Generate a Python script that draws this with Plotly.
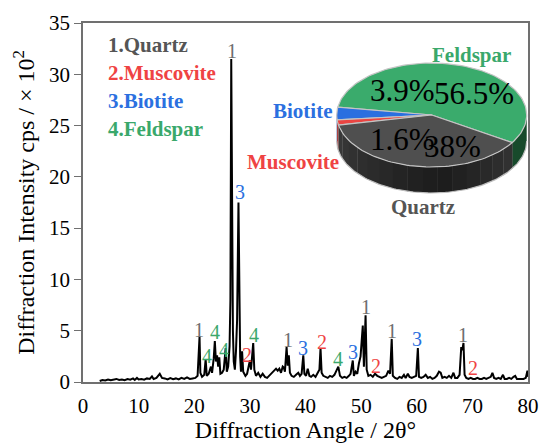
import numpy as np
import plotly.graph_objects as go

# ---------------- data ----------------
two_theta = [3.0, 3.5, 4.0, 4.5, 5.0, 5.5, 6.0, 6.5, 7.0, 7.5, 8.0, 8.5, 9.0, 9.3, 9.7, 10.0, 10.5, 11.0,
             11.5, 12.0, 12.4, 12.7, 13.2, 13.8, 14.2, 14.7, 15.2, 15.7, 16.2, 16.7, 17.2, 17.7, 18.2, 18.7,
             19.2, 19.7, 20.2, 20.6, 20.8, 20.95, 21.1, 21.4, 21.8, 22.05, 22.25, 22.6, 23.0, 23.2, 23.5,
             23.7, 23.9, 24.1, 24.3, 24.5, 24.7, 25.0, 25.3, 25.65, 25.85, 26.1, 26.35, 26.5, 26.65, 26.8,
             26.95, 27.1, 27.3, 27.5, 27.7, 27.95, 28.1, 28.25, 28.4, 28.6, 28.8, 29.2, 29.5, 29.8, 30.0,
             30.2, 30.4, 30.6, 30.8, 31.1, 31.5, 31.9, 32.3, 32.7, 33.1, 33.5, 33.9, 34.3, 34.7, 35.0, 35.3,
             35.6, 35.9, 36.1, 36.3, 36.6, 36.8, 37.0, 37.2, 37.5, 37.9, 38.3, 38.7, 39.0, 39.3, 39.6, 39.8,
             40.1, 40.4, 40.7, 41.0, 41.4, 41.8, 42.2, 42.5, 42.7, 42.9, 43.2, 43.6, 44.0, 44.4, 44.8, 45.2,
             45.6, 45.9, 46.2, 46.6, 47.0, 47.4, 47.8, 48.1, 48.5, 48.7, 49.0, 49.3, 49.6, 49.9, 50.3, 50.5,
             50.8, 51.0, 51.3, 51.7, 52.1, 52.5, 52.9, 53.3, 53.7, 54.1, 54.5, 54.9, 55.2, 55.5, 55.7, 56.1,
             56.5, 56.9, 57.3, 57.7, 58.0, 58.4, 58.7, 59.1, 59.5, 59.9, 60.2, 60.4, 60.8, 61.2, 61.6, 62.0,
             62.4, 62.8, 63.2, 63.6, 64.0, 64.3, 64.6, 65.0, 65.4, 65.8, 66.2, 66.6, 66.9, 67.3, 67.7, 68.0,
             68.2, 68.4, 68.6, 68.9, 69.3, 69.7, 70.1, 70.5, 70.9, 71.3, 71.7, 72.1, 72.5, 72.9, 73.3, 73.6,
             73.9, 74.3, 74.7, 75.1, 75.5, 75.8, 76.2, 76.6, 77.0, 77.4, 77.7, 78.0, 78.4, 78.8, 79.2, 79.6,
             79.9, 80.0]
intensity = [0.10, 0.20, 0.15, 0.25, 0.18, 0.22, 0.30, 0.20, 0.25, 0.18, 0.28, 0.22, 0.35, 0.20, 0.40, 0.25,
             0.30, 0.22, 0.35, 0.30, 0.55, 0.30, 0.40, 0.80, 0.40, 0.35, 0.25, 0.38, 0.28, 0.35, 0.25, 0.40,
             0.30, 0.45, 0.30, 0.35, 0.40, 0.60, 2.6, 4.4, 0.9, 0.5, 0.7, 2.2, 0.6, 0.8, 1.5, 0.9, 2.3,
             4.0, 2.0, 2.6, 1.5, 2.4, 0.8, 0.9, 1.2, 3.3, 1.0, 1.5, 3.5, 8.0, 31.5, 12.0,
             5.0, 2.0, 1.2, 3.0, 6.0, 17.5, 8.0, 2.5, 1.0, 3.0, 1.0, 0.6, 0.8, 1.8, 2.1,
             1.2, 2.5, 3.8, 1.2, 0.6, 0.9, 0.5, 0.8, 0.5, 0.4, 0.6, 0.9, 1.1, 1.3, 1.1, 1.3,
             0.9, 1.5, 1.4, 1.0, 3.4, 1.6, 2.6, 0.9, 0.6, 0.5, 0.7, 0.9, 0.6, 0.8, 2.6, 0.8,
             0.6, 1.3, 0.6, 0.5, 0.7, 0.5, 0.9, 1.2, 3.3, 0.9, 0.6, 0.5, 0.4, 0.6, 0.5, 0.7,
             1.1, 1.5, 0.6, 0.4, 0.5, 0.4, 0.6, 0.8, 2.1, 0.6, 1.0, 0.8, 1.8, 2.5, 5.5, 1.5,
             6.5, 1.2, 0.6, 0.7, 0.5, 0.8, 0.6, 0.5, 0.4, 0.5, 0.6, 1.1, 0.8, 4.2, 0.6, 0.4,
             0.3, 0.5, 0.4, 0.7, 0.4, 0.8, 0.5, 0.4, 0.5, 0.6, 3.3, 0.5, 0.4, 0.5, 0.7, 0.4,
             0.5, 0.3, 0.4, 0.6, 1.0, 0.9, 0.4, 0.5, 0.4, 0.6, 0.4, 0.9, 0.4, 0.4, 0.7, 3.4,
             3.1, 3.8, 0.7, 0.4, 0.3, 0.4, 0.3, 0.3, 0.4, 0.3, 0.3, 0.4, 0.3, 0.4, 0.5, 0.9,
             0.4, 0.3, 0.4, 0.3, 0.7, 0.3, 0.3, 0.4, 0.3, 0.5, 0.6, 0.3, 0.3, 0.3, 0.3, 0.4,
             1.1, 0.5]

# peak identification labels (angle, level of label, phase number)
peak_label_angle = [20.8, 22.3, 23.7, 25.3, 26.8, 28.3, 29.5, 30.7, 36.8, 39.6, 43.0, 45.9, 48.5,
                    50.8, 52.7, 55.5, 60.1, 68.3, 70.2]
peak_label_level = [5.1, 2.5, 4.85, 3.1, 32.3, 18.5, 2.65, 4.6, 4.1, 3.3, 3.9, 2.2, 2.9,
                    7.3, 1.6, 5.0, 4.2, 4.6, 1.4]
peak_label_phase = [1, 4, 4, 4, 1, 3, 2, 4, 1, 3, 2, 4, 3, 1, 2, 1, 3, 1, 2]

phase_names = ["Quartz", "Muscovite", "Biotite", "Feldspar"]

# mineral composition (pie inset)
pie_labels = ["Feldspar", "Biotite", "Muscovite", "Quartz"]
pie_values = [56.5, 3.9, 1.6, 38.0]
pie_text = ["56.5%", "3.9%", "1.6%", "38%"]

# ---------------- styles ----------------
FONT = "Liberation Serif"
phase_colors = ["#555555", "#ef4343", "#2b70e0", "#3aa86b"]
label_colors = ["#6e6e6e", "#ef4343", "#2b70e0", "#3aa86b"]
pie_top = {"Feldspar": "#3aab6c", "Biotite": "#2a6fe0", "Muscovite": "#ea4542", "Quartz": "#4f4f4f"}
pie_side = {"Feldspar": "#174a2b", "Biotite": "#1d4ea0", "Muscovite": "#a52a28", "Quartz": "#2a2a2a"}

fig = go.Figure()

fig.add_trace(go.Scatter(x=two_theta, y=intensity, mode="lines",
                         line=dict(color="black", width=2.0), showlegend=False,
                         hoverinfo="skip", xaxis="x", yaxis="y"))

annotations = []
for a, lv, ph in zip(peak_label_angle, peak_label_level, peak_label_phase):
    annotations.append(dict(x=a, y=lv, xref="x", yref="y", text=str(ph), showarrow=False,
                            font=dict(family=FONT, size=20, color=label_colors[ph - 1]),
                            xanchor="center", yanchor="middle"))

legend_y = [32.85, 30.1, 27.35, 24.7]
for i, name in enumerate(phase_names):
    annotations.append(dict(x=4.2, y=legend_y[i], xref="x", yref="y", text=f"<b>{i + 1}.{name}</b>",
                            showarrow=False, xanchor="left", yanchor="middle",
                            font=dict(family=FONT, size=21, color=phase_colors[i])))

# ---------------- 3D-look pie inset on its own axes (1 unit = 1 px) ----------------
RX, RY, DEPTH = 95.0, 52.0, 26.0
start = -32.0


def arc(t1, t2, n=None):
    if n is None:
        n = max(4, int(abs(t2 - t1) / 2) + 2)
    t = np.radians(np.linspace(t1, t2, n))
    return RX * np.cos(t), RY * np.sin(t)


ranges = []
cum = start
for lab, v in zip(pie_labels, pie_values):
    ranges.append((lab, cum, cum + v / 100 * 360))
    cum += v / 100 * 360

# side walls (front half: 180..360 deg)
for lab, t1, t2 in ranges:
    for off in (0, 360, -360):
        a, b = max(t1 + off, 180), min(t2 + off, 360)
        if b <= a:
            continue
        if lab == "Quartz":
            edges = np.linspace(a, b, 16)
            for e1, e2 in zip(edges[:-1], edges[1:]):
                m = (e1 + e2) / 2
                if m < 275:
                    g = 0x3a - (0x3a - 0x1c) * (m - a) / (275 - a)
                else:
                    g = 0x1c + (0x34 - 0x1c) * (m - 275) / (b - 275)
                g = int(max(0x1c, min(0x3c, g)))
                xs, ys = arc(e1, e2 + 0.3, 6)
                px = list(xs) + list(xs[::-1])
                py = list(ys) + list(ys[::-1] - DEPTH)
                fig.add_trace(go.Scatter(x=px, y=py, fill="toself", mode="lines",
                                         fillcolor=f"rgb({g},{g},{g})", line=dict(width=0),
                                         xaxis="x2", yaxis="y2", showlegend=False, hoverinfo="skip"))
        else:
            xs, ys = arc(a, b)
            px = list(xs) + list(xs[::-1])
            py = list(ys) + list(ys[::-1] - DEPTH)
            fig.add_trace(go.Scatter(x=px, y=py, fill="toself", mode="lines",
                                     fillcolor=pie_side[lab], line=dict(width=0),
                                     xaxis="x2", yaxis="y2", showlegend=False, hoverinfo="skip"))

# outline of bottom edge of wall
xs, ys = arc(180, 360, 120)
fig.add_trace(go.Scatter(x=xs, y=ys - DEPTH, mode="lines", line=dict(color="#bdbdbd", width=1.2),
                         xaxis="x2", yaxis="y2", showlegend=False, hoverinfo="skip"))

# top faces
for lab, t1, t2 in ranges:
    xs, ys = arc(t1, t2)
    px = [0] + list(xs) + [0]
    py = [0] + list(ys) + [0]
    fig.add_trace(go.Scatter(x=px, y=py, fill="toself", mode="lines",
                             fillcolor=pie_top[lab], line=dict(color="#c4c4c4", width=1.2),
                             xaxis="x2", yaxis="y2", showlegend=False, hoverinfo="skip"))

pct_pos = {"Feldspar": (42, 21), "Biotite": (-29, 24), "Muscovite": (-29, -24), "Quartz": (21, -31)}
for lab, txt in zip(pie_labels, pie_text):
    x0, y0 = pct_pos[lab]
    annotations.append(dict(x=x0, y=y0, xref="x2", yref="y2", text=txt, showarrow=False,
                            font=dict(family=FONT, size=31, color="black")))

name_pos = {"Feldspar": (40, 60, "center"), "Biotite": (-98, 4, "right"),
            "Muscovite": (-91, -47, "right"), "Quartz": (-9, -92, "center")}
for lab in pie_labels:
    x0, y0, anc = name_pos[lab]
    col = phase_colors[phase_names.index(lab)]
    annotations.append(dict(x=x0, y=y0, xref="x2", yref="y2", text=f"<b>{lab}</b>", showarrow=False,
                            xanchor=anc, yanchor="middle",
                            font=dict(family=FONT, size=21, color=col)))

# geometry of plot area (px)
L, R, T, B = 83, 14, 23, 61
W, H = 542, 443
pw, ph = W - L - R, H - T - B
cx, cy = 431.7, 115.0
ix0, ix1 = 330.0, W - R
iy0, iy1 = 40.0, 215.0  # top, bottom in px

fig.update_layout(
    width=W, height=H,
    margin=dict(l=L, r=R, t=T, b=B, autoexpand=False),
    paper_bgcolor="white", plot_bgcolor="white",
    font=dict(family=FONT, color="black"),
    showlegend=False,
    annotations=annotations,
    xaxis=dict(range=[0, 80], dtick=10, showline=True, linecolor="#707070", linewidth=1.5,
               mirror=True, ticks="outside", ticklen=4, tickcolor="rgba(0,0,0,0)",
               showgrid=False, zeroline=False, automargin=False,
               tickfont=dict(family=FONT, size=21, color="black"),
               title=dict(text="Diffraction Angle / 2θ°", font=dict(family=FONT, size=24, color="black"),
                          standoff=5)),
    yaxis=dict(range=[0, 35], dtick=5, showline=True, linecolor="#707070", linewidth=1.5,
               mirror=True, ticks="outside", ticklen=7, tickcolor="#707070", tickwidth=1.2,
               showgrid=False, zeroline=False, automargin=False,
               tickfont=dict(family=FONT, size=21, color="black"),
               title=dict(text="Diffraction Intensity cps / × 10<sup>2</sup>",
                          font=dict(family=FONT, size=24, color="black"), standoff=8)),
    xaxis2=dict(domain=[(ix0 - L) / pw, (ix1 - L) / pw], range=[ix0 - cx, ix1 - cx],
                visible=False, fixedrange=True, anchor="y2"),
    yaxis2=dict(domain=[(H - B - iy1) / ph, (H - B - iy0) / ph], range=[cy - iy1, cy - iy0],
                visible=False, fixedrange=True, anchor="x2"),
)

fig.write_html("out.html", config={"displayModeBar": False},
               post_script="document.body.style.margin='0px';document.body.style.overflow='hidden';")
